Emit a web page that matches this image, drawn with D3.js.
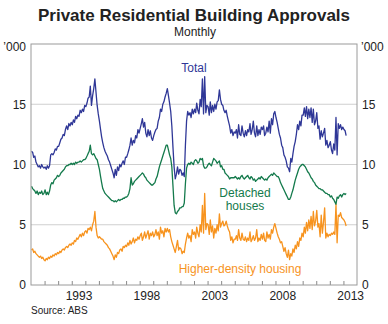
<!DOCTYPE html>
<html>
<head>
<meta charset="utf-8">
<script src="https://cdn.jsdelivr.net/npm/d3@7"></script>
<style>
	body { margin: 0; background: #fff; }
	svg { font-family: Arial, 'Liberation Sans', sans-serif; }
</style>
</head>
<body>
<div id="chart"></div>
<script>
	// monthly series, '000 dwellings, Jan 1990 onwards
	const firstYear = 1990;

	const total = [
		11.1, 11.0, 10.6, 10.7, 10.2, 10.0, 9.8, 9.9, 9.7, 10.0, 9.8, 9.7,
		9.8, 9.6, 9.9, 9.7, 9.9, 10.8, 10.9, 10.8, 11.0, 11.3, 11.2, 11.5,
		11.5, 11.8, 12.1, 12.2, 12.5, 12.4, 12.9, 13.2, 12.9, 13.4, 13.2, 13.5,
		13.3, 13.7, 13.5, 14.0, 13.8, 14.1, 14.0, 14.5, 14.3, 14.6, 14.4, 14.9,
		14.8, 15.1, 15.5, 15.6, 16.5, 14.9, 15.7, 16.3, 17.1, 16.0, 14.9, 14.2,
		13.6, 12.9, 12.3, 11.8, 11.4, 11.1, 10.9, 10.7, 10.4, 10.2, 9.9, 9.6,
		9.3, 8.9, 9.6, 9.1, 9.8, 9.5, 10.0, 9.8, 10.1, 10.3, 10.0, 10.6,
		10.6, 10.9, 11.2, 11.6, 12.2, 11.6, 12.0, 11.8, 12.4, 12.2, 12.9, 12.6,
		13.0, 13.4, 13.8, 13.1, 13.5, 12.6, 12.3, 12.9, 12.4, 12.8, 12.2, 12.0,
		12.4, 12.7, 12.9, 13.0, 13.6, 13.9, 14.6, 14.4, 15.0, 15.2, 15.6, 15.9,
		16.3, 15.7, 15.1, 14.4, 13.2, 11.4, 9.8, 8.8, 9.2, 9.8, 9.2, 9.6,
		9.5, 9.1, 9.3, 9.0, 11.6, 13.6, 14.4, 14.1, 14.3, 13.9, 14.6, 14.2,
		14.6, 14.3, 15.1, 14.5, 14.2, 15.4, 14.8, 17.1, 14.2, 17.3, 14.3, 14.9,
		14.8, 14.1, 15.2, 14.3, 14.9, 14.4, 15.0, 14.6, 15.2, 15.3, 16.2, 15.4,
		15.0, 14.9, 14.5, 14.3, 14.5, 14.0, 13.6, 13.2, 12.6, 12.9, 12.4, 12.7,
		12.6, 12.9, 12.2, 13.3, 12.5, 12.4, 13.2, 12.6, 12.3, 12.8, 12.4, 12.9,
		12.7, 13.4, 12.5, 12.9, 13.6, 12.6, 12.3, 13.2, 12.4, 12.9, 12.5, 13.1,
		12.9, 13.2, 12.4, 12.6, 13.1, 12.7, 13.6, 12.6, 13.8, 13.3, 14.2, 14.4,
		13.9, 13.5, 13.0, 12.5, 12.2, 11.6, 11.4, 10.8, 10.6, 10.3, 9.8, 9.7,
		9.4, 10.5, 10.2, 10.9, 11.5, 11.9, 12.5, 13.3, 12.9, 13.6, 13.2, 14.1,
		14.1, 14.7, 14.0, 14.8, 13.8, 14.6, 13.9, 14.7, 13.5, 14.6, 13.3, 13.6,
		14.3, 13.0, 13.2, 12.1, 12.8, 12.3, 12.6, 13.0, 11.6, 12.0, 11.4, 11.6,
		11.9, 11.2, 10.9, 11.7, 11.2, 13.9, 10.8, 13.4, 13.0, 13.3, 12.9, 13.1,
		12.9, 12.8, 12.4,
	];

	const detached = [
		8.2, 8.0, 7.9, 7.8, 7.6, 7.8, 7.5, 7.7, 7.6, 7.8, 7.5, 7.6,
		7.9, 7.5, 7.7, 7.5, 7.8, 8.3, 8.5, 8.4, 8.7, 8.8, 8.9, 9.1,
		9.0, 9.1, 9.3, 9.4, 9.5, 9.6, 9.8, 9.9, 9.9, 10.0, 10.0, 10.1,
		10.0, 10.1, 10.0, 10.2, 10.1, 10.2, 10.2, 10.3, 10.2, 10.3, 10.4, 10.4,
		10.5, 10.7, 10.9, 11.1, 11.6, 10.9, 10.8, 10.9, 10.7, 10.5, 10.4, 10.0,
		9.6, 9.0, 8.5, 8.0, 7.8, 7.6, 7.5, 7.4, 7.3, 7.2, 7.1, 7.0,
		7.0, 6.9, 7.0, 6.9, 7.0, 7.1, 7.0, 7.1, 7.1, 7.2, 7.2, 7.3,
		7.3, 7.4, 7.6, 8.0, 8.9, 8.3, 8.4, 8.6, 8.7, 8.8, 8.9, 9.0,
		9.1, 9.2, 9.3, 9.2, 9.0, 8.9, 8.7, 8.6, 8.5, 8.4, 8.3, 8.3,
		8.4, 8.5, 8.8, 9.0, 9.4, 9.8, 10.1, 10.4, 10.7, 11.0, 11.3, 11.6,
		11.6, 11.2, 10.8, 10.5, 9.8, 8.2, 6.6, 6.0, 5.9, 6.1, 6.2, 6.4,
		6.4, 6.5, 6.5, 6.8, 8.4, 9.7, 10.0, 10.1, 10.0, 10.2, 10.1, 10.0,
		10.3, 10.4, 10.3, 10.1, 10.2, 10.5, 10.4, 10.5, 9.9, 9.7, 9.7, 9.8,
		10.0, 10.1, 10.0, 9.9, 10.2, 10.5, 10.4, 10.3, 10.1, 10.2, 10.3, 9.8,
		9.9, 9.6, 9.6, 9.3, 9.2, 9.1, 9.0, 8.8, 8.9, 8.9, 8.9, 8.9,
		9.0, 8.9, 8.8, 8.9, 8.8, 9.0, 9.1, 8.9, 8.8, 8.9, 9.0, 9.1,
		8.9, 8.8, 9.0, 8.9, 8.7, 8.8, 8.6, 8.7, 8.8, 8.9, 8.8, 9.0,
		8.9, 8.8, 8.7, 8.8, 8.7, 8.9, 9.0, 9.1, 9.2, 9.1, 9.3, 9.2,
		9.1, 9.0, 9.0, 8.8, 8.5, 8.3, 8.1, 7.9, 7.7, 7.5, 7.3, 7.1,
		7.1, 7.3, 7.6, 7.9, 8.3, 8.7, 9.0, 9.3, 9.6, 9.8, 9.9, 10.0,
		10.0, 9.9, 9.8, 9.6, 9.4, 9.3, 9.1, 8.9, 8.8, 8.6, 8.5, 8.3,
		8.2, 8.1, 8.0, 8.0, 7.9, 7.9, 7.8, 7.7, 7.6, 7.6, 7.5, 7.5,
		7.3, 7.4, 7.2, 7.1, 6.9, 6.7, 7.3, 7.2, 7.4, 7.5, 7.3, 7.5,
		7.6, 7.5, 7.6,
	];

	const higherDensity = [
		2.9, 3.0, 2.7, 2.8, 2.6, 2.5, 2.4, 2.3, 2.4, 2.2, 2.3, 2.1,
		2.0, 2.2, 2.1, 2.3, 2.2, 2.4, 2.3, 2.5, 2.4, 2.6, 2.5, 2.7,
		2.6, 2.8, 2.7, 2.9, 3.0, 2.9, 3.1, 3.2, 3.1, 3.3, 3.4, 3.3,
		3.5, 3.4, 3.7, 3.6, 3.9, 3.8, 4.0, 4.2, 4.0, 4.3, 4.1, 4.4,
		4.5, 4.3, 4.7, 4.6, 4.8, 4.5, 5.0, 5.3, 6.1, 4.8, 4.1, 3.9,
		4.0, 3.9, 3.8, 3.8, 3.6, 3.5, 3.4, 3.3, 3.1, 3.0, 2.8, 2.6,
		2.4, 2.1, 2.5, 2.3, 2.7, 2.6, 2.9, 3.0, 2.8, 3.2, 3.1, 3.3,
		3.2, 3.5, 3.3, 3.7, 3.4, 3.6, 3.9, 3.5, 3.8, 3.7, 4.0, 3.8,
		4.1, 4.3, 3.7, 4.0, 4.4, 3.9, 4.2, 4.5, 3.8, 4.3, 4.1, 4.4,
		4.0, 4.2, 4.6, 4.1, 4.4, 3.8, 4.8, 4.3, 4.5, 4.0, 4.7, 4.4,
		4.7, 4.4, 4.6, 4.0, 3.6, 3.3, 3.0, 2.7, 3.2, 3.7, 2.9, 3.1,
		3.0, 2.6, 2.8, 2.7, 3.4, 3.9, 4.3, 3.9, 4.1, 3.6, 4.6, 4.2,
		4.4, 3.9, 4.8, 4.3, 4.0, 5.0, 4.4, 6.6, 4.3, 7.6, 4.6, 5.1,
		5.0, 4.2, 5.4, 4.4, 4.9, 3.9, 4.7, 4.3, 5.0, 4.5, 5.9, 4.8,
		5.1, 5.3, 4.9, 5.0, 5.3, 4.9, 4.6, 4.4, 3.7, 4.0, 3.5, 3.8,
		3.8, 4.1, 3.7, 4.6, 3.9, 3.7, 4.3, 3.8, 3.7, 4.0, 3.6, 3.9,
		3.7, 4.4, 3.6, 3.8, 4.1, 3.7, 3.9, 4.6, 3.6, 3.9, 3.7, 4.2,
		3.8, 4.3, 3.7, 3.6, 4.4, 3.9, 4.2, 3.8, 4.6, 4.3, 4.8, 5.1,
		4.7, 4.3, 4.0, 3.8, 3.5, 3.6, 3.2, 2.8, 3.1, 2.6, 2.3, 2.9,
		2.1, 2.6, 2.4, 3.0, 2.7, 3.3, 3.0, 3.6, 3.2, 3.9, 3.7, 4.3,
		4.0, 4.8, 4.3, 5.2, 4.5, 5.4, 4.7, 5.7, 4.6, 6.1, 4.9, 5.3,
		6.2, 4.8, 5.1, 4.0, 5.8, 4.3, 5.2, 6.4, 3.9, 4.3, 4.0, 4.2,
		4.1, 4.3, 4.2, 4.4, 4.2, 6.7, 3.5, 5.8, 5.7, 6.0, 5.6, 5.5,
		5.4, 5.2, 4.9,
	];

	const yTicks = [0, 5, 10, 15];
	const yearLabels = [1993, 1998, 2003, 2008, 2013];

	const series = [
		{ name: 'Total', values: total, color: '#2f3797' },
		{ name: 'Detached houses', values: detached, color: '#147a4c' },
		{ name: 'Higher-density housing', values: higherDensity, color: '#f7931e' },
	];

	const width = 388;
	const height = 324;
	const plot = { left: 31, right: 357, top: 44, bottom: 285 };

	const svg = d3.select('#chart').append('svg')
		.attr('width', width)
		.attr('height', height);

	const x = d3.scaleTime()
		.domain([new Date(1990, 0, 1), new Date(2014, 0, 1)])
		.range([plot.left, plot.right]);
	const y = d3.scaleLinear()
		.domain([0, 20])
		.range([plot.bottom, plot.top]);

	const monthDate = i => new Date(firstYear + Math.floor(i / 12), i % 12, 15);

	// horizontal grid
	svg.append('g')
		.selectAll('line')
		.data(yTicks.filter(d => d > 0))
		.enter()
		.append('line')
			.attr('x1', plot.left)
			.attr('x2', plot.right)
			.attr('y1', d => y(d))
			.attr('y2', d => y(d))
			.style('stroke', '#cfcfcf')
			.style('stroke-width', 1);

	// year ticks along the bottom, pointing into the plot
	const xTickAxis = d3.axisBottom(x)
		.tickValues(d3.range(1991, 2014).map(yr => new Date(yr, 0, 1)))
		.tickSize(-4)
		.tickSizeOuter(0)
		.tickFormat('');
	const xTickG = svg.append('g')
		.attr('transform', `translate(0, ${plot.bottom})`)
		.call(xTickAxis);
	xTickG.select('.domain').remove();
	xTickG.selectAll('line').style('stroke', '#8a8a8a');

	// year labels sit in the middle of each year
	const xLabelAxis = d3.axisBottom(x)
		.tickValues(yearLabels.map(yr => new Date(yr, 6, 1)))
		.tickSize(0)
		.tickPadding(6)
		.tickFormat(d3.timeFormat('%Y'));
	const xLabelG = svg.append('g')
		.attr('transform', `translate(0, ${plot.bottom})`)
		.call(xLabelAxis);
	xLabelG.select('.domain').remove();
	xLabelG.selectAll('text')
		.style('font-size', '12px')
		.style('font-family', 'Arial, Liberation Sans, sans-serif')
		.style('fill', '#222');

	const yAxisLeft = d3.axisLeft(y)
		.tickValues(yTicks)
		.tickSize(0)
		.tickPadding(5);
	const yAxisRight = d3.axisRight(y)
		.tickValues(yTicks)
		.tickSize(0)
		.tickPadding(5);

	[
		svg.append('g').attr('transform', `translate(${plot.left}, 0)`).call(yAxisLeft),
		svg.append('g').attr('transform', `translate(${plot.right}, 0)`).call(yAxisRight),
	].forEach(g => {
		g.select('.domain').remove();
		g.selectAll('text')
			.style('font-size', '12px')
			.style('font-family', 'Arial, Liberation Sans, sans-serif')
			.style('fill', '#222');
	});

	// lines
	const lineFunc = d3.line()
		.x((d, i) => x(monthDate(i)))
		.y(d => y(d));

	svg.append('g')
		.selectAll('path')
		.data(series.slice().reverse())
		.enter()
		.append('path')
			.attr('d', d => lineFunc(d.values))
			.style('fill', 'none')
			.style('stroke', d => d.color)
			.style('stroke-width', 1.3)
			.style('stroke-linejoin', 'round');

	// frame
	svg.append('rect')
		.attr('x', plot.left)
		.attr('y', plot.top)
		.attr('width', plot.right - plot.left)
		.attr('height', plot.bottom - plot.top)
		.style('fill', 'none')
		.style('stroke', '#9a9a9a')
		.style('stroke-width', 1);

	// titles and units
	const labels = svg.append('g')
		.style('fill', '#222');
	labels.append('text')
		.attr('x', 194)
		.attr('y', 21)
		.style('font-size', '17px')
		.style('font-weight', 700)
		.style('text-anchor', 'middle')
		.text('Private Residential Building Approvals');
	labels.append('text')
		.attr('x', 195)
		.attr('y', 36)
		.style('font-size', '12px')
		.style('text-anchor', 'middle')
		.text('Monthly');
	labels.append('text')
		.attr('x', 26)
		.attr('y', 51)
		.style('font-size', '12px')
		.style('text-anchor', 'end')
		.text('\u2019000');
	labels.append('text')
		.attr('x', 361)
		.attr('y', 51)
		.style('font-size', '12px')
		.text('\u2019000');
	labels.append('text')
		.attr('x', 31)
		.attr('y', 314)
		.style('font-size', '10px')
		.text('Source: ABS');

	// series names
	const nameG = svg.append('g')
		.style('font-size', '12px');
	nameG.append('text')
		.attr('x', 194)
		.attr('y', 72)
		.style('text-anchor', 'middle')
		.style('fill', series[0].color)
		.text('Total');
	nameG.append('text')
		.attr('x', 245)
		.attr('y', 197)
		.style('text-anchor', 'middle')
		.style('fill', series[1].color)
		.selectAll('tspan')
		.data(['Detached', 'houses'])
		.enter()
		.append('tspan')
			.attr('x', 245)
			.attr('dy', (d, i) => i ? 13 : 0)
			.text(d => d);
	nameG.append('text')
		.attr('x', 240)
		.attr('y', 273)
		.style('text-anchor', 'middle')
		.style('fill', series[2].color)
		.text('Higher-density housing');
</script>
</body>
</html>
